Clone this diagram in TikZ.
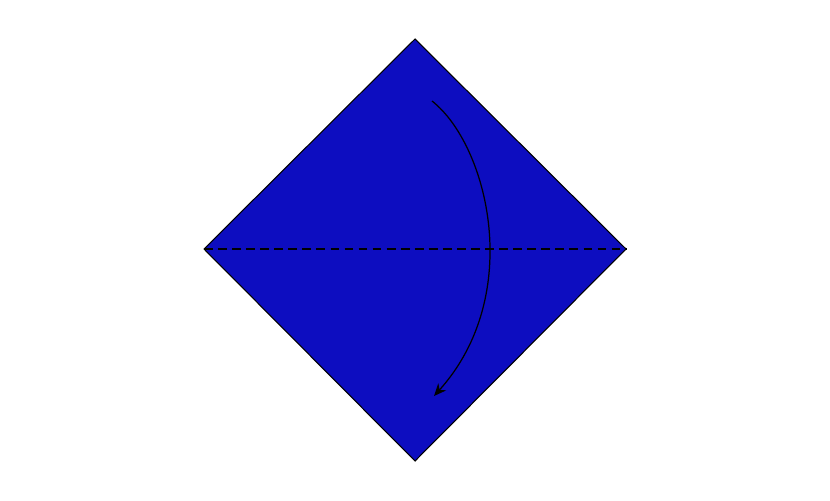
\documentclass[tikz,border=0pt]{standalone}
\usetikzlibrary{arrows.meta}
\definecolor{paper}{RGB}{13,13,192}
\begin{document}
\begin{tikzpicture}[x=0.02cm,y=-0.02cm,
  sheet/.style={fill=paper,draw=black,line width=0.6pt,line join=miter},
  fold/.style={dashed,line width=0.6pt,dash pattern=on 5pt off 3pt},
  movearrow/.style={line width=0.7pt,-{Stealth[length=7pt,width=6pt]}}]
\useasboundingbox (0,0) rectangle (830,500);
\coordinate (T) at (415,39);
\coordinate (L) at (204,249);
\coordinate (R) at (626,249);
\coordinate (B) at (415,461);
\coordinate (s) at (432,101);
\coordinate (e) at (434,396);
\draw[sheet] (T) -- (R) -- (B) -- (L) -- cycle;
\draw[fold] (L) -- (R);
\draw[movearrow] (s) .. controls (488,145) and (525,295) .. (e);
\end{tikzpicture}
\end{document}
